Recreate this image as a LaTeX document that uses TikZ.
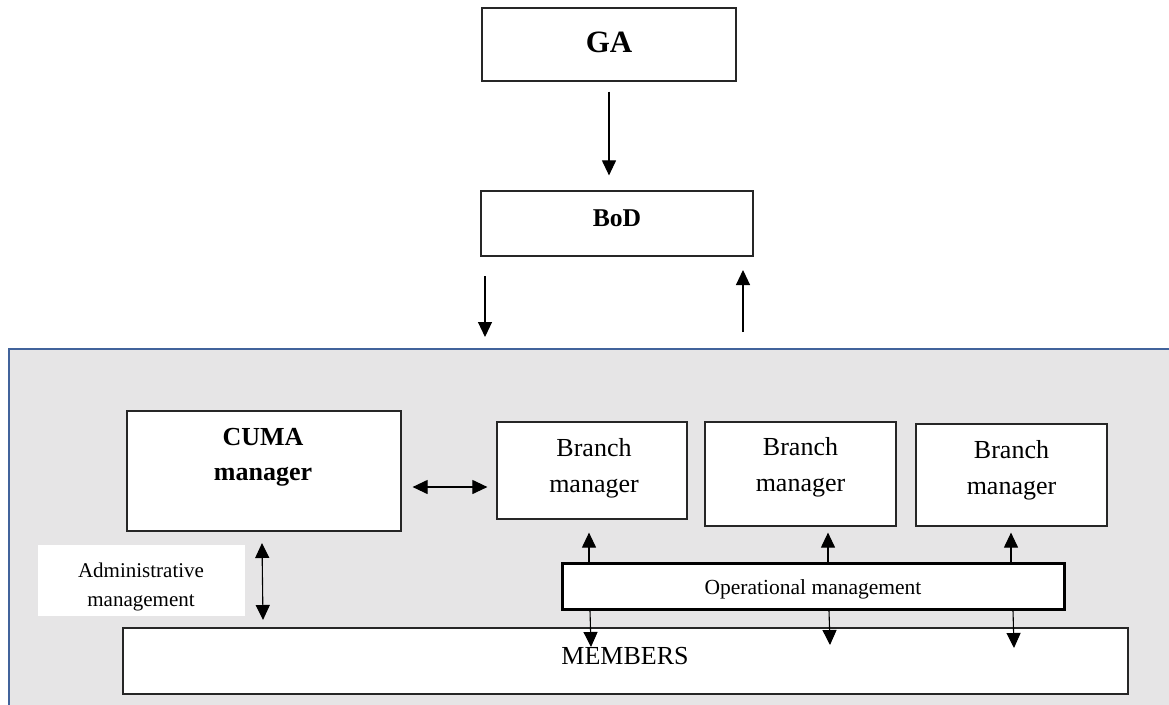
\documentclass[tikz,border=0pt]{standalone}
\usepackage{fontspec}
\setmainfont{Liberation Serif}
\usetikzlibrary{arrows.meta}
\definecolor{framefill}{HTML}{E6E5E6}
\definecolor{frameblue}{HTML}{41639B}
\definecolor{boxline}{HTML}{262626}
\tikzset{
  box/.style={draw=boxline, line width=1.2pt, fill=white, rectangle, inner sep=0pt},
  thickbox/.style={draw=black, line width=3pt, fill=white, rectangle, inner sep=0pt},
  plainbox/.style={fill=white, draw=none, rectangle, inner sep=0pt},
  frame/.style={draw=frameblue, line width=2pt, fill=framefill, rectangle, inner sep=0pt},
  txt/.style={inner sep=0pt, align=center},
  conn/.style={draw=black, line width=1.1pt, -{Triangle[length=15pt,width=14pt]}},
  dconn/.style={draw=black, line width=1.1pt, {Triangle[length=15pt,width=14pt]}-{Triangle[length=15pt,width=14pt]}},
}
\begin{document}
\begin{tikzpicture}[x=1pt,y=-1pt]
\useasboundingbox (0,0) rectangle (1169,704);
\clip (0,0) rectangle (1169,704);
\fill[white] (0,0) rectangle (1169,704);

% outer frame
\node[frame, anchor=north west, minimum width=1180pt, minimum height=380pt] (frame) at (8,348) {};

% top boxes
\node[box, minimum width=254pt, minimum height=73pt] (ga) at (609,44.5) {};
\node[txt, font=\fontsize{31}{36}\selectfont\bfseries] (gatxt) at (609,42) {GA};
\node[box, minimum width=272pt, minimum height=65pt] (bod) at (617,223.5) {};
\node[txt, font=\fontsize{25.6}{30}\selectfont\bfseries] (bodtxt) at (617,218) {BoD};

\draw[conn] ([yshift=-10pt]ga.south) -- ([yshift=15pt]bod.north -| ga.south);

\coordinate (d1s) at (485,276);
\coordinate (d1e) at (485,337);
\coordinate (u1s) at (743,332);
\coordinate (u1e) at (743,270);
\draw[conn] (d1s) -- (d1e);
\draw[conn] (u1s) -- (u1e);

% CUMA manager
\node[box, minimum width=274pt, minimum height=120pt] (cuma) at (264,471) {};
\node[txt, font=\fontsize{26}{35}\selectfont\bfseries] (cumatxt) at (263,457.5) {CUMA\\manager};

% Branch managers
\node[box, minimum width=190pt, minimum height=97pt] (b1) at (592,470.5) {};
\node[txt, font=\fontsize{26}{36}\selectfont] (b1txt) at (594,468) {Branch\\manager};
\node[box, minimum width=191pt, minimum height=104pt] (b2) at (800.5,474) {};
\node[txt, font=\fontsize{26}{36}\selectfont] (b2txt) at (800.5,467.5) {Branch\\manager};
\node[box, minimum width=191pt, minimum height=102pt] (b3) at (1011.5,475) {};
\node[txt, font=\fontsize{26}{36}\selectfont] (b3txt) at (1011.5,470.5) {Branch\\manager};

\draw[dconn] ([xshift=11pt]cuma.east |- 0,487) -- ([xshift=-9pt]b1.west |- 0,487);

% Administrative management
\node[plainbox, minimum width=207pt, minimum height=71pt] (adm) at (141.5,580.5) {};
\begin{scope}
\clip (adm.south west) rectangle (adm.north east);
\node[txt, font=\fontsize{21}{29}\selectfont] (admtxt) at (141,587) {Administrative\\management};
\end{scope}

% Members
\node[box, minimum width=1005pt, minimum height=66pt] (mem) at (625.5,661) {};
\node[txt, font=\fontsize{26}{30}\selectfont] (memtxt) at (625,656) {MEMBERS};

\coordinate (a1) at (262,543);
\coordinate (a2) at (263,620);
\draw[dconn] (a1) -- (a2);

% Operational management
\node[thickbox, minimum width=502pt, minimum height=46pt] (op) at (813,586) {};
\node[txt, font=\fontsize{21.5}{26}\selectfont] (optxt) at (813,589) {Operational management};

\draw[conn] (op.north -| 589,0) -- ([yshift=-13pt]b1.south -| 589,0);
\draw[conn] (op.north -| 828,0) -- ([yshift=-6pt]b2.south -| 828,0);
\draw[conn] (op.north -| 1011,0) -- ([yshift=-6pt]b3.south -| 1011,0);

\coordinate (m1) at (591,647);
\coordinate (m2) at (830,645);
\coordinate (m3) at (1014,648);
\draw[conn] (op.south -| 590,0) -- (m1);
\draw[conn] (op.south -| 829,0) -- (m2);
\draw[conn] (op.south -| 1013,0) -- (m3);
\end{tikzpicture}
\end{document}
